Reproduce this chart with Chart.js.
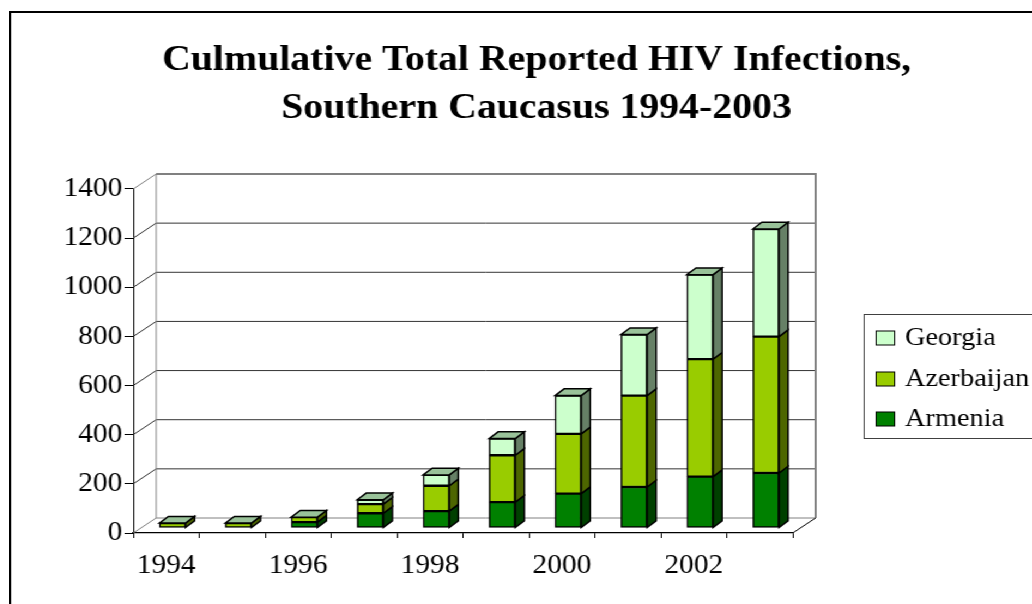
<!DOCTYPE html>
<html>
<head>
<meta charset="utf-8">
<title>Culmulative Total Reported HIV Infections</title>
<script src="https://cdn.jsdelivr.net/npm/chart.js@4/dist/chart.umd.min.js"></script>
<style>
  html, body { margin: 0; padding: 0; background: #fff; overflow: hidden; }
  /* the original picture is a little stretched sideways */
  #frame { position: absolute; left: 9px; top: 11px; border: 2px solid #000;
           transform: scaleX(1.09); transform-origin: 0 0; }
  #chart { display: block; }
</style>
</head>
<body>
<div id="frame"><canvas id="chart" width="964" height="600"></canvas></div>
<script>
// data
var years = ['1994', '1995', '1996', '1997', '1998', '1999', '2000', '2001', '2002', '2003'];
var armenia = [0, 0, 24, 60, 69, 105, 140, 167, 209, 224];
var azerbaijan = [20, 20, 20, 37, 103, 191, 243, 372, 478, 555];
var georgia = [0, 0, 0, 18, 44, 68, 156, 248, 344, 438];
var yTicks = [0, 200, 400, 600, 800, 1000, 1200, 1400];

// fake 3d: back wall offset, bar offset from front plane, bar depth
var WALL_DX = 21, WALL_DY = -15;
var BAR_DX = 5.7, BAR_DY = -5;
var DEPTH_DX = 8.3, DEPTH_DY = -6.7;

Chart.defaults.font.family = '"Liberation Serif", "Times New Roman", serif';
Chart.defaults.color = '#000';

function poly(ctx, pts, fill) {
    ctx.beginPath();
    ctx.moveTo(pts[0][0], pts[0][1]);
    for (var i = 1; i < pts.length; i++) ctx.lineTo(pts[i][0], pts[i][1]);
    ctx.closePath();
    ctx.fillStyle = fill;
    ctx.fill();
    ctx.stroke();
}

function line(ctx, x1, y1, x2, y2) {
    ctx.beginPath();
    ctx.moveTo(x1, y1);
    ctx.lineTo(x2, y2);
    ctx.stroke();
}

var walls = {
    id: 'walls',
    beforeDatasetsDraw: function(chart) {
        var ctx = chart.ctx, a = chart.chartArea, y = chart.scales.y;
        var top = y.getPixelForValue(yTicks[yTicks.length - 1]);
        var bot = y.getPixelForValue(0);
        ctx.save();
        // gridlines on side wall and back wall
        ctx.lineWidth = 1;
        ctx.strokeStyle = '#333';
        yTicks.forEach(function(v) {
            if (v === 0 || v === yTicks[yTicks.length - 1]) return;
            var py = y.getPixelForValue(v);
            line(ctx, a.left, py, a.left + WALL_DX, py + WALL_DY);
            line(ctx, a.left + WALL_DX, py + WALL_DY, a.right + WALL_DX, py + WALL_DY);
        });
        // wall edges
        ctx.strokeStyle = '#808080';
        line(ctx, a.left, top, a.left + WALL_DX, top + WALL_DY);
        line(ctx, a.left, bot, a.left + WALL_DX, bot + WALL_DY);
        line(ctx, a.left + WALL_DX, top + WALL_DY, a.left + WALL_DX, bot + WALL_DY);
        line(ctx, a.left + WALL_DX, bot + WALL_DY, a.right + WALL_DX, bot + WALL_DY);
        ctx.lineWidth = 2;
        line(ctx, a.left + WALL_DX, top + WALL_DY, a.right + WALL_DX + 1, top + WALL_DY);
        line(ctx, a.right + WALL_DX, top + WALL_DY, a.right + WALL_DX, bot + WALL_DY);
        // right floor edge
        ctx.lineWidth = 1;
        ctx.strokeStyle = '#000';
        line(ctx, a.right, bot, a.right + WALL_DX, bot + WALL_DY);
        ctx.restore();

        // bars sit a bit behind the front plane
        ctx.save();
        ctx.translate(BAR_DX, BAR_DY);
    },
    afterDatasetsDraw: function(chart) {
        var ctx = chart.ctx;
        var last = chart.data.datasets.length - 1;
        ctx.lineWidth = 1.5;
        ctx.strokeStyle = '#000';
        chart.data.datasets.forEach(function(ds, i) {
            chart.getDatasetMeta(i).data.forEach(function(bar) {
                var p = bar.getProps(['x', 'y', 'base', 'width'], true);
                var l = p.x - p.width / 2, r = p.x + p.width / 2;
                var t = Math.min(p.y, p.base), b = Math.max(p.y, p.base);
                if (b - t > 0.5) {
                    poly(ctx, [[r, t], [r + DEPTH_DX, t + DEPTH_DY], [r + DEPTH_DX, b + DEPTH_DY], [r, b]], ds.sideColor);
                }
                if (i === last) {
                    poly(ctx, [[l, t], [l + DEPTH_DX, t + DEPTH_DY], [r + DEPTH_DX, t + DEPTH_DY], [r, t]], ds.topColor);
                }
            });
        });
        ctx.restore();
    }
};

var boxLegend = {
    id: 'boxLegend',
    afterDraw: function(chart) {
        var ctx = chart.ctx;
        var rows = [325, 366, 406];
        ctx.save();
        ctx.strokeStyle = '#404040';
        ctx.lineWidth = 1;
        ctx.strokeRect(782.5, 301.5, 300, 124);
        ctx.font = '26px "Liberation Serif", "Times New Roman", serif';
        ctx.textBaseline = 'middle';
        ctx.textAlign = 'left';
        for (var k = 0; k < 3; k++) {
            var ds = chart.data.datasets[2 - k];
            ctx.fillStyle = ds.backgroundColor;
            ctx.fillRect(793.5, rows[k] - 7, 17, 14);
            ctx.strokeStyle = '#000';
            ctx.strokeRect(793.5, rows[k] - 7, 17, 14);
            ctx.fillStyle = '#000';
            ctx.fillText(ds.label, 820, rows[k]);
        }
        ctx.restore();
    }
};

var ctx = document.getElementById('chart').getContext('2d');
var hivChart = new Chart(ctx, {
    type: 'bar',
    data: {
        labels: years,
        datasets: [
            { label: 'Armenia', data: armenia, backgroundColor: '#008000', sideColor: '#004000', topColor: '#66a666' },
            { label: 'Azerbaijan', data: azerbaijan, backgroundColor: '#99cc00', sideColor: '#4d6600', topColor: '#b8d94d' },
            { label: 'Georgia', data: georgia, backgroundColor: '#ccffcc', sideColor: '#668066', topColor: '#99c299' }
        ]
    },
    options: {
        responsive: false,
        animation: false,
        layout: { padding: { left: 0, right: 0, top: 0, bottom: 0 } },
        datasets: {
            bar: { barThickness: 24, borderColor: '#000', borderWidth: 1.5, borderSkipped: false, clip: false }
        },
        plugins: {
            legend: { display: false },
            tooltip: { enabled: false },
            title: {
                display: true,
                text: ['Culmulative Total Reported HIV Infections,', 'Southern Caucasus 1994-2003'],
                color: '#000',
                font: { size: 36.5, weight: 'bold', lineHeight: 1.315 },
                padding: { top: 24, bottom: 56 }
            }
        },
        scales: {
            x: {
                stacked: true,
                afterFit: function(s) { s.height = 80; },
                ticks: {
                    autoSkip: false, maxRotation: 0, padding: 12, font: { size: 27 },
                    callback: function(v, i) { return i % 2 === 0 ? years[i] : ''; }
                },
                grid: { drawOnChartArea: false, tickLength: 5, color: '#000', offset: true },
                border: { color: '#000', width: 1.2 }
            },
            y: {
                stacked: true, min: 0, max: 1400,
                afterFit: function(s) { s.width = 112; },
                ticks: { stepSize: 200, padding: 2, font: { size: 27 },
                    callback: function(v) { return String(v); } },
                grid: { drawOnChartArea: false, tickLength: 8, color: '#000' },
                border: { color: '#000', width: 1 }
            },
            // keeps the room on the right where the legend box goes
            room: {
                type: 'linear', position: 'right', display: true,
                afterFit: function(s) { s.width = 247; },
                ticks: { display: false }, grid: { display: false }, border: { display: false }
            }
        }
    },
    plugins: [walls, boxLegend]
});
</script>
</body>
</html>
